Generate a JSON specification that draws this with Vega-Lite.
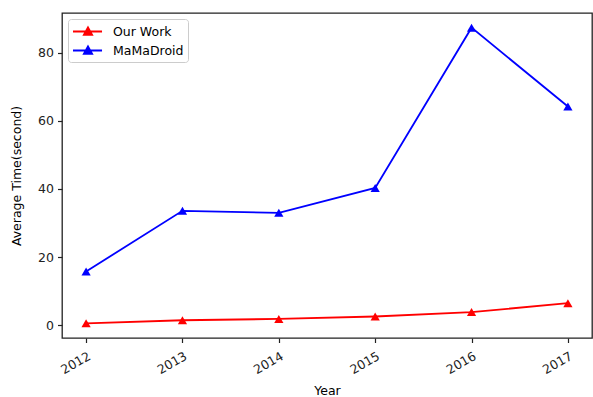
{
  "$schema": "https://vega.github.io/schema/vega-lite/v6.json",
  "width": 530,
  "height": 325,
  "autosize": "none",
  "padding": {"left": 62, "top": 13, "right": 1, "bottom": 59},
  "config": {
    "font": "DejaVu Sans",
    "view": {"stroke": "#222222", "strokeWidth": 1.3},
    "axis": {"domain": false, "grid": false, "tickColor": "#222222", "tickSize": 4.5, "tickWidth": 1.2, "labelFont": "DejaVu Sans", "labelFontSize": 12.5, "labelColor": "#222222", "labelPadding": 4, "titleFont": "DejaVu Sans", "titleFontSize": 12.5, "titleFontWeight": "normal", "titleColor": "#000000"}
  },
  "data": {
    "values": [
      {"year": 2012, "series": "Our Work", "time": 0.6},
      {"year": 2013, "series": "Our Work", "time": 1.5},
      {"year": 2014, "series": "Our Work", "time": 1.9},
      {"year": 2015, "series": "Our Work", "time": 2.6},
      {"year": 2016, "series": "Our Work", "time": 3.9},
      {"year": 2017, "series": "Our Work", "time": 6.5},
      {"year": 2012, "series": "MaMaDroid", "time": 15.8},
      {"year": 2013, "series": "MaMaDroid", "time": 33.6},
      {"year": 2014, "series": "MaMaDroid", "time": 33.0},
      {"year": 2015, "series": "MaMaDroid", "time": 40.3},
      {"year": 2016, "series": "MaMaDroid", "time": 87.3},
      {"year": 2017, "series": "MaMaDroid", "time": 64.2}
    ]
  },
  "encoding": {
    "x": {"field": "year", "type": "quantitative", "scale": {"domain": [2011.75, 2017.25], "nice": false, "zero": false},
      "axis": {"values": [2012, 2013, 2014, 2015, 2016, 2017], "format": "d", "labelAngle": -30, "labelAlign": "right", "labelBaseline": "top", "labelPadding": 7, "title": "Year", "titlePadding": 8}},
    "y": {"field": "time", "type": "quantitative", "scale": {"domain": [-3.7, 91.6], "nice": false, "zero": false},
      "axis": {"values": [0, 20, 40, 60, 80], "title": "Average Time(second)", "titlePadding": 14}},
    "color": {"field": "series", "type": "nominal", "scale": {"domain": ["Our Work", "MaMaDroid"], "range": ["#ff0000", "#0000ff"]},
      "legend": {"title": null, "orient": "top-left", "offset": 6, "symbolType": "M-1,0H2.87M1,-0.55L1.55,0.45H0.45Z", "symbolSize": 225, "labelFontSize": 12.5, "labelFont": "DejaVu Sans", "labelColor": "#000000", "strokeColor": "#cccccc", "fillColor": "white", "cornerRadius": 3, "padding": 4, "rowPadding": 3, "labelOffset": 24,
        "encode": {"symbols": {"update": {"stroke": {"scale": "color", "field": "value"}, "fill": {"scale": "color", "field": "value"}, "strokeWidth": {"value": 1.8}, "opacity": {"value": 1}}}}}}
  },
  "layer": [
    {"mark": {"type": "line", "strokeWidth": 1.8}},
    {"mark": {"type": "point", "filled": true, "shape": "triangle-up", "size": 85, "opacity": 1}}
  ]
}
